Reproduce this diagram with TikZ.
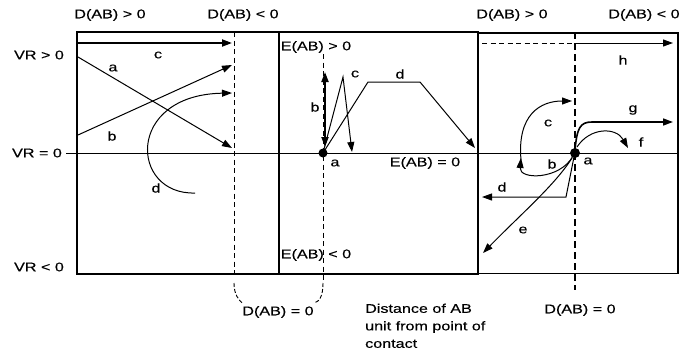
\documentclass[tikz,border=0pt]{standalone}
\usepackage{fontspec}
\setmainfont[FakeStretch=1.28,FakeBold=0.3]{Liberation Sans}
\usetikzlibrary{arrows.meta}
\begin{document}
\begin{tikzpicture}[x=1pt,y=-1pt,
  lbl/.style={font=\fontsize{12.6}{14}\selectfont, inner sep=0pt},
  boxline/.style={line width=2.6pt},
  rboxline/.style={line width=1.3pt},
  axisline/.style={line width=0.9pt},
  dline/.style={line width=0.9pt, dash pattern=on 5pt off 3.5pt},
  dthick/.style={line width=2pt, dash pattern=on 7pt off 4pt},
  tip/.tip={Triangle[length=10pt,width=7pt]},
  arr/.style={line width=1pt, -tip},
  arrthick/.style={line width=2pt, -tip},
  dot/.style={circle, fill=black, inner sep=0pt, minimum size=9pt}]
\useasboundingbox (0,0) rectangle (680,356);

% top and side labels
\node[lbl] (dl1) at (110,15) {D(AB) > 0};
\node[lbl] (dl2) at (243,15) {D(AB) < 0};
\node[lbl] (dr1) at (512,15) {D(AB) > 0};
\node[lbl] (dr2) at (644,15) {D(AB) < 0};
\node[lbl] (vrp) at (39,55) {VR > 0};
\node[lbl] (vr0) at (37,153) {VR = 0};
\node[lbl] (vrn) at (39,267) {VR < 0};

% axis
\draw[axisline] ([xshift=4pt]vr0.east) -- (678,153);

% dashed lines
\draw[dline] (234,32) -- (234,278);
\draw[dline] (323,54) -- (323,281);
\draw[dthick] (575,32) -- (575,290);

% boxes
\draw[rboxline] (478,33) -- (678,33) -- (678,273.5) -- (478,273.5);
\draw[boxline] (77,32) rectangle (279,274);
\draw[boxline] (279,32) -- (478,32) -- (478,274) -- (279,274);

% middle labels
\node[lbl] (egt) at (316,47) {E(AB) > 0};
\node[lbl] (eeq) at (425,163) {E(AB) = 0};
\node[lbl] (elt) at (316,255) {E(AB) < 0};

% bottom labels
\node[lbl] (d0m) at (278,312) {D(AB) = 0};
\draw[line width=0.9pt, dash pattern=on 4pt off 2pt] (234,283) .. controls (234,295) and (239,300) .. ([yshift=3pt]d0m.north west);
\draw[line width=0.9pt, dash pattern=on 4pt off 2pt] (323,283) .. controls (323,297) and (319,302) .. ([yshift=3pt]d0m.north east);
\node[lbl, align=left, anchor=north west, font=\fontsize{12.6}{17.5}\selectfont] (dist) at (365,303.5) {Distance of AB\\unit from point of\\contact};
\node[lbl] (d0r) at (580,310) {D(AB) = 0};

% left panel
\coordinate (lc0) at (77,43);   \coordinate (lc1) at (232,43);
\draw[arrthick] (lc0) -- (lc1);
\node[lbl] (llc) at (158,55) {c};
\coordinate (la0) at (78,57);   \coordinate (la1) at (232,148);
\draw[arr] (la0) -- (la1);
\node[lbl] (lla) at (113,68) {a};
\coordinate (lb0) at (78,135);  \coordinate (lb1) at (232,65);
\draw[arr] (lb0) -- (lb1);
\node[lbl] (llb) at (112,136) {b};
\coordinate (ld0) at (195,193); \coordinate (ld1) at (232,93);
\draw[arr] (ld0) .. controls (130,195) and (125,95) .. (ld1);
\node[lbl] (lld) at (156,188) {d};

% middle panel
\node[dot] (am) at (323,153) {};
\node[lbl] (mla) at (335,163) {a};
\coordinate (mb0) at (325,72); \coordinate (mb1) at (325,147);
\draw[line width=2pt, tip-tip] (mb0) -- (mb1);
\node[lbl] (mlb) at (315,107) {b};
\coordinate (mc1) at (343,77); \coordinate (mc2) at (352,152);
\draw[arr] (am.center) -- (mc1) -- (mc2);
\node[lbl] (mlc) at (355,74) {c};
\coordinate (md1) at (368,82); \coordinate (md2) at (420,82); \coordinate (md3) at (475,148);
\draw[arr] (am.center) -- (md1) -- (md2) -- (md3);
\node[lbl] (mld) at (400,74) {d};

% right panel
\node[dot, minimum size=10pt] (ar) at (575,153) {};
\node[lbl] (rla) at (588,161) {a};
\coordinate (rh0) at (482,43); \coordinate (rh1) at (575,43); \coordinate (rh2) at (673,43);
\draw[line width=0.9pt, dash pattern=on 5pt off 3.5pt] (rh0) -- (rh1);
\draw[arr] (rh1) -- (rh2);
\node[lbl] (rlh) at (623,60) {h};
\coordinate (rg1) at (673,122);
\draw[line width=1.6pt, -tip] (575,150) .. controls (577,128) and (580,122) .. (592,122) -- (rg1);
\node[lbl] (rlg) at (633,110) {g};
\coordinate (rf1) at (628,148);
\draw[arr] (577,147) .. controls (590,127) and (616,127) .. (rf1);
\node[lbl] (rlf) at (641,142) {f};
\coordinate (rb1) at (521,158);
\draw[arr] (573,156) .. controls (560,180) and (519,180) .. (rb1);
\node[lbl] (rlb) at (552,164) {b};
\coordinate (rc1) at (572,101);
\draw[arr] (521,160) .. controls (517,115) and (540,101) .. (rc1);
\node[lbl] (rlc) at (548,123) {c};
\coordinate (rd1) at (566,197); \coordinate (rd2) at (482,197);
\draw[arr] (574,157) -- (rd1) -- (rd2);
\node[lbl] (rld) at (502,187) {d};
\coordinate (re1) at (483,253);
\draw[arr] (572,158) .. controls (555,185) and (520,215) .. (re1);
\node[lbl] (rle) at (523,230) {e};
\end{tikzpicture}
\end{document}
